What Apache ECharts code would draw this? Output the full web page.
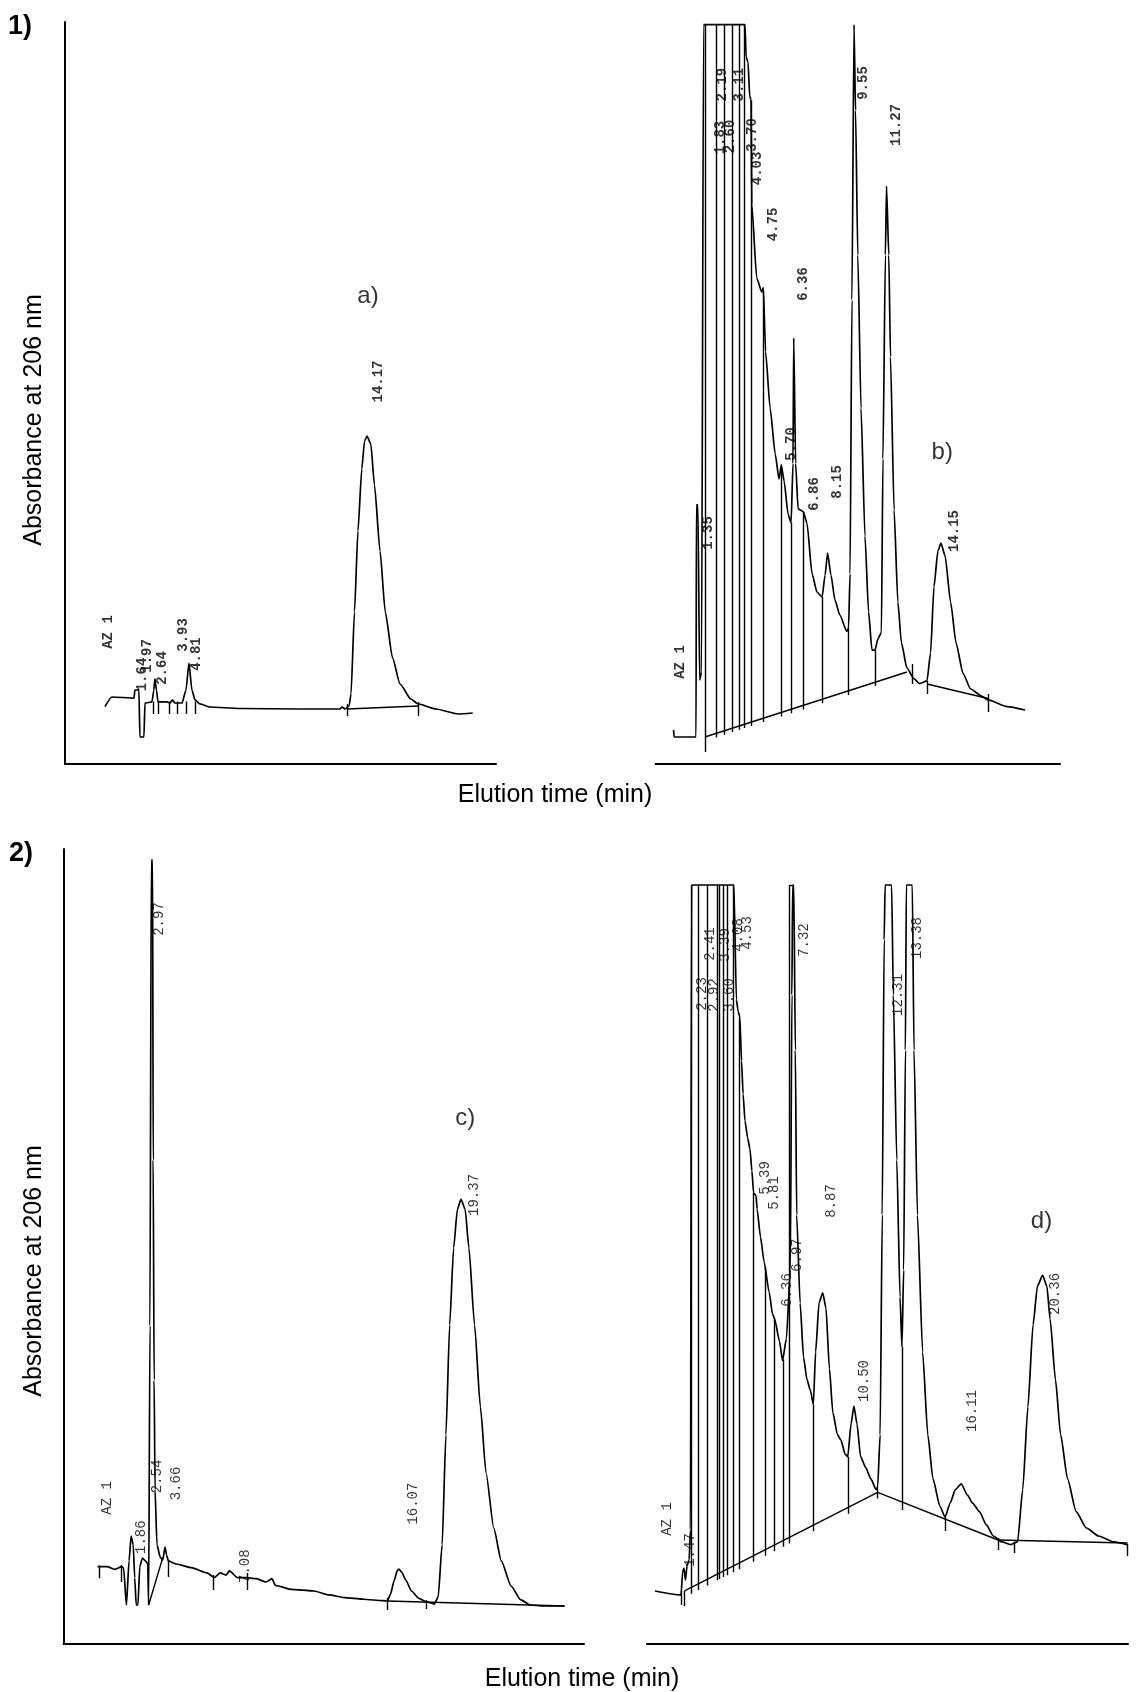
<!DOCTYPE html>
<html>
<head>
<meta charset="utf-8">
<title>HPLC chromatograms</title>
<script src="https://cdn.jsdelivr.net/npm/echarts@6/dist/echarts.min.js"></script>
<style>
  html, body { margin: 0; padding: 0; background: #fff; }
  #chart { width: 1141px; height: 1692px; }
</style>
</head>
<body>
<div id="chart"></div>
<script>
// ---- Chromatogram a) : [time (min), absorbance (% of full scale)] ----
const traceA = [[-0.90,7.74],[-0.50,9.03],[0.77,8.89],[0.82,9.97],[1.05,9.97],[1.11,3.64],[1.34,3.64],[1.40,8.22],
  [1.80,8.36],[1.91,9.97],[1.97,11.46],[2.06,9.97],[2.15,8.36],[2.66,8.36],[2.84,8.22],[2.98,8.63],[3.12,8.22],
  [3.53,8.22],[3.76,9.97],[3.93,13.61],[4.10,9.97],[4.28,8.63],[4.56,8.09],[5.14,7.68],[6.86,7.48],[10.32,7.41],
  [12.62,7.41],[12.73,7.68],[12.91,7.41],[13.14,7.82],[13.25,9.43],[13.45,20.49],[13.65,31.40],[13.87,39.76],
  [14.03,43.53],[14.17,44.20],[14.39,43.13],[14.60,37.60],[14.92,28.71],[15.22,20.49],[15.64,14.29],[16.07,10.78],
  [16.69,8.76],[17.11,8.09],[18.14,7.41],[19.41,6.74],[20.25,6.87]];
const labelsA = [['AZ 1',-0.70,17.79],['1.64',1.25,12.06],['1.97',1.54,14.56],['2.64',2.38,12.94],
  ['3.93',3.61,17.39],['4.81',4.39,14.82],['14.17',14.83,51.55]];
const ticksA = [[1.89,8.42,6.74],[2.15,8.42,6.74],[2.78,8.42,6.74],[3.24,8.42,6.74],[3.76,8.42,6.74],
  [4.28,8.42,6.74],[13.02,8.09,6.47],[17.11,8.36,6.47]];
const baseA = [[[13.02,7.41],[17.11,7.82]]];

// ---- Chromatogram b) ----
const traceB = [[0.00,4.58],[0.03,3.64],[1.19,3.64],[1.21,34.91],[1.29,34.91],[1.38,11.32],[1.48,12.40],[1.59,99.65],
  [3.78,99.65],[3.84,95.28],[3.94,94.61],[4.03,90.00],[4.10,89.50],[4.14,75.39],[4.40,65.50],[4.67,63.61],[4.75,64.20],
  [4.87,55.53],[5.11,47.98],[5.38,41.78],[5.58,38.41],[5.70,40.30],[5.85,38.14],[6.06,33.69],[6.22,32.48],[6.32,40.50],
  [6.36,57.41],[6.46,40.50],[6.59,34.37],[6.86,34.03],[7.06,32.48],[7.33,25.61],[7.59,23.18],[7.86,22.51],[8.02,25.47],
  [8.15,28.44],[8.33,25.47],[8.54,22.10],[8.80,20.08],[9.17,17.86],[9.26,18.33],[9.34,25.61],[9.44,62.53],[9.55,99.65],
  [9.63,88.10],[9.75,68.60],[9.92,47.98],[10.13,30.73],[10.32,20.49],[10.50,15.36],[10.66,15.36],[10.82,16.91],
  [11.00,17.71],[11.08,41.11],[11.21,68.60],[11.27,77.90],[11.39,68.60],[11.48,54.85],[11.67,34.23],[11.87,21.83],
  [12.06,16.31],[12.35,12.94],[12.72,11.51],[13.02,10.84],[13.41,11.19],[13.60,14.96],[13.78,23.85],[13.99,28.71],
  [14.15,29.78],[14.37,28.03],[14.66,21.83],[14.95,16.31],[15.32,12.20],[15.72,10.11],[16.30,9.16],[16.64,8.63],
  [17.65,7.74],[18.60,7.28]];
const labelsB = [['AZ 1',0.34,13.75],['1.35',1.85,31.13],['1.83',2.46,84.43],['2.19',2.57,91.56],['2.60',3.01,84.57],
  ['3.11',3.49,91.56],['3.70',4.15,84.77],['4.03',4.45,80.26],['4.75',5.30,72.71],['5.70',6.23,43.13],
  ['6.36',6.85,64.69],['6.86',7.47,36.39],['8.15',8.68,38.01],['9.55',10.04,91.78],['11.27',11.80,86.12],
  ['14.15',14.85,31.40]];
// drop lines: [time, upper end, lower end]
const dropsB = [[1.67,99.65,1.62],[2.25,99.65,3.58],[2.70,99.65,3.95],[3.12,99.65,4.30],[3.49,99.65,4.61],
  [3.75,99.65,4.84],[4.10,89.50,5.11],[4.76,63.70,5.65],[5.69,40.00,6.40],[6.22,32.50,6.83],[6.85,34.00,7.36],
  [7.86,22.50,8.18],[9.23,18.30,9.31],[10.69,15.40,10.50]];
const ticksB = [[12.62,13.48,10.78],[13.41,11.19,9.43],[16.64,9.43,7.01]];
const baseB = [[[1.66,3.64],[12.35,12.40]],[[13.41,10.78],[16.64,8.83]]];

// ---- Chromatogram c) ----
const traceC = [[0.08,9.69],[0.58,9.69],[1.00,9.34],[1.36,9.69],[1.46,9.51],[1.61,4.86],[1.75,10.40],[1.86,13.54],
  [1.97,12.46],[2.05,8.31],[2.13,4.86],[2.22,4.86],[2.32,9.69],[2.46,10.77],[2.62,10.40],[2.74,10.08],[2.79,4.86],
  [2.86,40.00],[2.93,98.59],[3.00,98.59],[3.03,60.86],[3.08,33.17],[3.13,19.38],[3.23,12.46],[3.40,10.90],[3.54,10.52],
  [3.66,12.16],[3.74,11.15],[3.84,10.40],[4.25,10.02],[5.06,9.55],[5.88,8.89],[6.28,8.31],[6.58,8.89],[6.90,8.63],
  [7.08,9.14],[7.50,8.31],[7.91,8.31],[8.51,8.17],[9.02,7.75],[9.33,8.17],[9.53,7.31],[10.34,6.83],[11.56,6.62],
  [12.37,6.12],[13.18,5.79],[14.20,5.58],[15.22,5.40],[15.46,5.36],[15.63,6.24],[15.83,8.00],[15.98,9.14],[16.07,9.39],
  [16.22,9.01],[16.44,8.00],[16.74,6.62],[17.14,5.68],[17.55,5.24],[17.96,4.98],[18.16,5.89],[18.37,12.46],
  [18.57,26.29],[18.77,40.13],[18.98,49.81],[19.18,54.66],[19.37,55.90],[19.59,54.66],[19.79,49.81],[20.09,40.13],
  [20.40,29.78],[20.70,21.47],[21.11,14.55],[21.51,10.40],[22.03,7.25],[22.53,5.54],[23.04,4.86],[23.75,4.73],
  [24.87,4.73]];
const labelsC = [['AZ 1',0.58,18.33],['1.86',2.42,13.39],['2.54',3.23,21.03],['2.97',3.33,91.19],['3.66',4.25,20.15],
  ['7.08',7.91,9.74],['16.07',16.84,17.62],['19.37',20.09,56.46]];
const ticksC = [[0.19,9.84,8.21],[1.36,9.89,7.75],[3.84,10.52,8.38],[6.21,8.63,6.75],[8.00,8.89,6.75],
  [15.46,5.74,4.23],[17.52,5.49,4.35]];
const baseC = [[[2.79,4.86],[3.54,10.82]],[[15.46,5.36],[24.87,4.73]]];

// ---- Chromatogram d) ----
const traceD = [[0.11,6.62],[1.47,6.12],[1.55,9.01],[1.62,9.51],[1.70,8.00],[1.78,9.77],[1.89,10.52],[1.96,14.30],
  [2.02,95.47],[4.23,95.47],[4.36,81.00],[4.45,79.61],[4.54,78.86],[4.63,73.32],[4.71,69.17],[4.81,65.77],[4.95,63.63],
  [5.07,62.24],[5.17,59.48],[5.26,56.71],[5.39,56.39],[5.44,54.69],[5.62,51.17],[5.81,48.02],[6.07,44.25],[6.25,41.48],
  [6.36,40.85],[6.61,38.08],[6.77,35.63],[6.97,38.33],[7.18,47.02],[7.26,81.63],[7.30,95.47],[7.36,95.47],[7.44,74.70],
  [7.51,53.93],[7.69,42.86],[7.87,35.98],[8.05,33.21],[8.23,31.83],[8.38,30.10],[8.50,36.70],[8.68,42.90],[8.87,44.15],
  [9.04,42.24],[9.22,34.60],[9.40,29.06],[9.64,26.29],[9.82,25.62],[10.04,23.86],[10.18,23.52],[10.35,27.67],
  [10.50,29.90],[10.66,27.67],[10.85,23.52],[11.12,22.14],[11.38,20.75],[11.66,19.38],[11.74,19.71],[11.87,26.29],
  [11.98,53.96],[12.08,88.55],[12.13,95.47],[12.47,95.47],[12.56,81.63],[12.74,60.86],[12.91,43.62],[13.01,37.36],
  [13.10,47.02],[13.19,74.70],[13.24,95.47],[13.55,95.47],[13.64,74.70],[13.82,53.93],[14.09,36.70],[14.36,26.29],
  [14.63,20.75],[14.99,17.32],[15.26,15.93],[15.53,17.69],[15.80,19.38],[16.11,20.09],[16.43,18.70],[16.70,17.69],
  [17.06,16.61],[17.42,14.93],[17.78,13.54],[18.24,12.79],[18.69,12.46],[19.05,12.79],[19.32,19.38],[19.59,29.78],
  [19.86,40.13],[20.09,45.00],[20.36,46.35],[20.58,45.00],[20.75,40.85],[21.03,33.21],[21.30,26.29],[21.66,20.75],
  [22.11,16.61],[22.65,14.55],[23.28,13.54],[24.09,12.79],[24.77,12.46]];
const labelsD = [['AZ 1',0.74,15.68],['1.47',1.94,11.78],['2.23',2.57,81.75],['2.41',2.98,88.04],['2.92',3.19,81.63],
  ['3.39',3.77,87.92],['3.60',4.00,81.63],['4.08',4.45,89.18],['4.53',4.92,89.43],['5.39',5.86,58.60],
  ['5.81',6.33,56.71],['6.36',7.00,44.50],['6.97',7.52,48.90],['7.32',7.89,88.54],['8.87',9.30,55.70],
  ['10.50',11.03,33.05],['12.31',12.81,81.63],['13.38',13.82,88.80],['16.11',16.67,29.27],['20.36',21.03,44.00]];
const dropsD = [[1.99,95.47,6.28],[2.36,95.47,6.73],[2.83,95.47,7.31],[3.38,95.47,7.98],[3.48,95.47,8.12],
  [3.69,95.47,8.37],[3.87,95.47,8.60],[4.18,95.47,8.99],[4.50,78.90,9.36],[5.26,56.70,10.29],[5.89,47.40,11.07],
  [6.34,41.00,11.63],[6.79,35.80,12.18],[7.14,95.47,12.61],[8.38,30.10,14.13],[10.18,23.52,16.35],
  [11.74,19.71,18.27],[13.01,37.36,16.81]];
const ticksD = [[1.47,6.62,4.86],[1.65,6.62,4.73],[15.26,15.93,14.17],[18.03,13.29,11.78],[18.88,12.82,11.40],
  [24.80,12.54,11.03]];
const baseD = [[[1.65,6.62],[11.74,19.03]],[[11.74,19.03],[18.03,13.04]],[[18.03,13.04],[24.80,12.66]],
  [[7.14,95.47],[7.30,95.47]]];

// sample tags placed inside each panel
const tags = [['a)',14.23,63.07],['b)',14.22,41.98],['c)',19.59,66.14],['d)',20.30,53.18]];

// time window of each panel's x axis (min)
const xRanges = [[-3.20,21.59],[-0.95,20.45],[-1.73,25.90],[-0.31,24.82]];

const INK = '#000';
const SANS = 'Liberation Sans, Arial, sans-serif';
const grids = [
  { left: 65,    top: 22,  width: 431,   height: 742 },
  { left: 655.6, top: 22,  width: 404.4, height: 742 },
  { left: 63.5,  top: 849, width: 520.5, height: 794.6 },
  { left: 647,   top: 849, width: 481,   height: 794.6 }
];

function traceSeries(i, data) {
  return { type: 'line', xAxisIndex: i, yAxisIndex: i, data: data, symbol: 'none', showSymbol: false,
    smooth: 0.2, smoothMonotone: 'x', lineStyle: { color: INK, width: 1.7 }, silent: true, z: 3 };
}
function segSeries(i, segs, width) {
  return { type: 'lines', coordinateSystem: 'cartesian2d', xAxisIndex: i, yAxisIndex: i,
    data: segs.map(s => ({ coords: s })), lineStyle: { color: INK, width: width, opacity: 1, curveness: 0 },
    silent: true, z: 2 };
}
function vertSegs(list) { return list.map(v => [[v[0], v[1]], [v[0], v[2]]]); }
function labelSeries(i, list, bold) {
  return { type: 'scatter', xAxisIndex: i, yAxisIndex: i, symbolSize: 0, silent: true, z: 4,
    data: list.map(l => ({ value: [l[1], l[2]], name: l[0] })),
    label: { show: true, formatter: '{b}', rotate: 90, position: 'inside', align: 'center', verticalAlign: 'middle',
      fontFamily: 'Liberation Mono', fontSize: 14, fontWeight: bold ? 'bold' : 'normal', color: INK } };
}
function tagSeries(i, tag) {
  return { type: 'scatter', xAxisIndex: i, yAxisIndex: i, symbolSize: 0, silent: true, z: 4,
    data: [{ value: [tag[1], tag[2]], name: tag[0] }],
    label: { show: true, formatter: '{b}', position: 'inside', align: 'center', verticalAlign: 'middle',
      fontFamily: SANS, fontSize: 24, color: INK } };
}

const traces = [traceA, traceB, traceC, traceD];
const labels = [labelsA, labelsB, labelsC, labelsD];
const drops = [[], dropsB, [], dropsD];
const ticks = [ticksA, ticksB, ticksC, ticksD];
const bases = [baseA, baseB, baseC, baseD];

const series = [];
for (let i = 0; i < 4; i++) {
  series.push(traceSeries(i, traces[i]));
  series.push(segSeries(i, vertSegs(drops[i]).concat(vertSegs(ticks[i])), 1.4));
  series.push(segSeries(i, bases[i], 1.4));
  series.push(labelSeries(i, labels[i], i < 2));
  series.push(tagSeries(i, tags[i]));
}

function text(str, x, y, size, opts) {
  return Object.assign({ type: 'text', x: x, y: y, style: { text: str, fontSize: size, fontFamily: SANS,
    fontWeight: (opts && opts.bold) ? 'bold' : 'normal', fill: INK, textAlign: 'center', textVerticalAlign: 'middle' } },
    (opts && opts.vertical) ? { rotation: Math.PI / 2 } : {});
}

const axisLineStyle = { color: INK, width: 2 };
const option = {
  animation: false,
  backgroundColor: '#fff',
  grid: grids,
  xAxis: grids.map((g, i) => ({
    gridIndex: i, type: 'value', min: xRanges[i][0], max: xRanges[i][1],
    axisLine: { show: true, onZero: false, lineStyle: axisLineStyle },
    axisTick: { show: false }, axisLabel: { show: false }, splitLine: { show: false }
  })),
  yAxis: grids.map((g, i) => ({
    gridIndex: i, type: 'value', min: 0, max: 100,
    axisLine: { show: i % 2 === 0, onZero: false, lineStyle: axisLineStyle },
    axisTick: { show: false }, axisLabel: { show: false }, splitLine: { show: false }
  })),
  graphic: [
    text('1)', 20, 27, 27, { bold: true }),
    text('2)', 21, 854, 27, { bold: true }),
    text('Absorbance at 206 nm', 34, 420, 25, { vertical: true }),
    text('Absorbance at 206 nm', 34, 1271, 25, { vertical: true }),
    text('Elution time (min)', 555, 795, 25),
    text('Elution time (min)', 582, 1679, 25)
  ],
  series: series
};

const chart = echarts.init(document.getElementById('chart'), null, { renderer: 'canvas' });
chart.setOption(option);
</script>
</body>
</html>
